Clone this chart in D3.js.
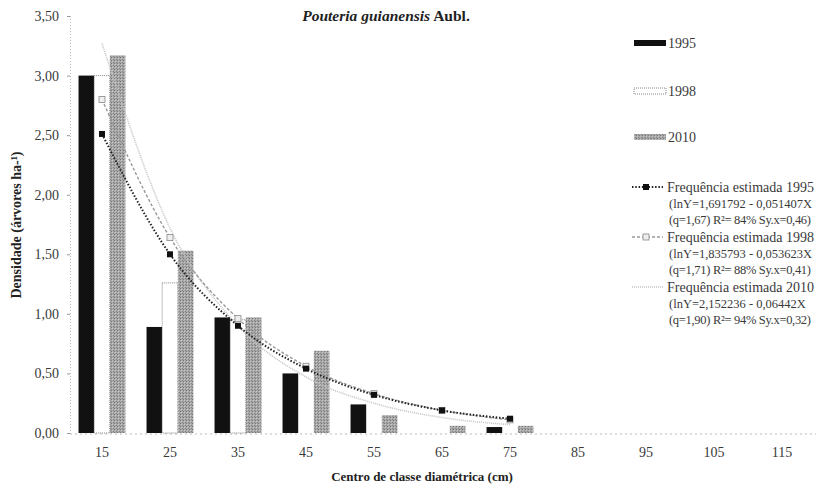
<!DOCTYPE html>
<html>
<head>
<meta charset="utf-8">
<script src="https://cdn.jsdelivr.net/npm/d3@7/dist/d3.min.js"></script>
<style>
  html, body { margin: 0; padding: 0; background: #fff; }
  svg text { font-family: "Liberation Serif", "Times New Roman", "DejaVu Serif", serif; }
</style>
</head>
<body>
<svg id="chart" width="827" height="486"></svg>
<script>
// Diameter class centres (cm)
const classes = [15, 25, 35, 45, 55, 65, 75, 85, 95, 105, 115];
const years = ["1995", "1998", "2010"];

// Observed density (trees ha-1) per class
const obs1995 = [3.00, 0.89, 0.97, 0.50, 0.24, 0, 0.05, 0, 0, 0, 0];
const obs1998 = [3.00, 1.26, 0.95, 0, 0, 0, 0, 0, 0, 0, 0];
const obs2010 = [3.17, 1.53, 0.97, 0.69, 0.15, 0.06, 0.06, 0, 0, 0, 0];

// Estimated frequencies (classes 15–75)
const estClasses = [15, 25, 35, 45, 55, 65, 75];
const est1995 = [2.51, 1.50, 0.90, 0.54, 0.32, 0.19, 0.12];
const est1998 = [2.80, 1.64, 0.96, 0.56, 0.33, 0.19, 0.11];
const est2010 = [3.27, 1.72, 0.90, 0.47, 0.25, 0.13, 0.07];

const yTicks = [0, 0.5, 1.0, 1.5, 2.0, 2.5, 3.0, 3.5];

const legendEq = [
  ["Frequência estimada 1995", "(lnY=1,691792 - 0,051407X", "(q=1,67) R²= 84% Sy.x=0,46)"],
  ["Frequência estimada 1998", "(lnY=1,835793 - 0,053623X", "(q=1,71) R²= 88% Sy.x=0,41)"],
  ["Frequência estimada 2010", "(lnY=2,152236 - 0,06442X", "(q=1,90) R²= 94% Sy.x=0,32)"]
];

const svg = d3.select("#chart");
const ptBR = d3.formatLocale({decimal: ",", thousands: ".", grouping: [3], currency: ["R$", ""]});
const fmt = ptBR.format(".2f");
const FONT = "Liberation Serif, Times New Roman, serif";

// Hatched grey fill for the 2010 bars
const defs = svg.append("defs");
const pat = defs.append("pattern").attr("id", "hatch")
  .attr("patternUnits", "userSpaceOnUse").attr("width", 3).attr("height", 3);
pat.append("rect").attr("width", 3).attr("height", 3).attr("fill", "#a8a8a8");
pat.append("rect").attr("width", 1).attr("height", 1).attr("fill", "#777");
pat.append("rect").attr("x", 2).attr("y", 2).attr("width", 1).attr("height", 1).attr("fill", "#888");
pat.append("rect").attr("x", 1).attr("y", 1).attr("width", 1).attr("height", 1).attr("fill", "#c8c8c8");

const x0 = d3.scaleBand().domain(classes).range([68, 816])
  .paddingInner(0.31).paddingOuter(0.155);
const x1 = d3.scaleBand().domain(years).range([0, x0.bandwidth()]);
const y = d3.scaleLinear().domain([0, 3.5]).range([433, 16]);
const xc = c => x0(c) + x0.bandwidth() / 2;

// Y axis: faint dotted spine with small ticks
const yAxis = svg.append("g").attr("transform", "translate(70,0)")
  .call(d3.axisLeft(y).tickValues(yTicks).tickFormat(fmt).tickSize(3).tickPadding(8));
yAxis.select(".domain").attr("stroke", "#bbb").attr("stroke-dasharray", "1,2");
yAxis.selectAll(".tick line").attr("stroke", "#999");
yAxis.selectAll(".tick text").attr("font-size", 14).attr("fill", "#3a3a3a")
  .attr("font-family", FONT);

// X axis baseline and labels
const xAxis = svg.append("g").attr("transform", "translate(0,434)")
  .call(d3.axisBottom(x0).tickSize(0).tickPadding(13));
xAxis.select(".domain").attr("d", "M70,0H816").attr("stroke", "#bbb").attr("stroke-dasharray", "2,3");
xAxis.selectAll(".tick text").attr("font-size", 14).attr("fill", "#3a3a3a")
  .attr("font-family", FONT);

// Bars
const series = [
  {key: "1995", values: obs1995, fill: "#111", stroke: "none", dash: null},
  {key: "1998", values: obs1998, fill: "#fff", stroke: "#777", dash: "1,1"},
  {key: "2010", values: obs2010, fill: "url(#hatch)", stroke: "none", dash: null}
];
series.forEach(s => {
  svg.append("g").selectAll("rect")
    .data(classes.map((c, i) => ({c, v: s.values[i]})).filter(d => d.v > 0))
    .join("rect")
    .attr("x", d => x0(d.c) + x1(s.key))
    .attr("width", x1.bandwidth())
    .attr("y", d => y(d.v))
    .attr("height", d => y(0) - y(d.v))
    .attr("fill", s.fill)
    .attr("stroke", s.stroke)
    .attr("stroke-width", 0.9)
    .attr("stroke-dasharray", s.dash);
});

// Estimated frequency curves
const line = d3.line().x(d => xc(d.c)).y(d => y(d.v)).curve(d3.curveMonotoneX);
const toPts = arr => estClasses.map((c, i) => ({c, v: arr[i]}));

svg.append("path").datum(toPts(est2010)).attr("d", line)
  .attr("fill", "none").attr("stroke", "#c4c4c4").attr("stroke-width", 1.6)
  .attr("stroke-dasharray", "1,1");
svg.append("path").datum(toPts(est1998)).attr("d", line)
  .attr("fill", "none").attr("stroke", "#999").attr("stroke-width", 1.4)
  .attr("stroke-dasharray", "3,2");
svg.append("path").datum(toPts(est1995)).attr("d", line)
  .attr("fill", "none").attr("stroke", "#222").attr("stroke-width", 2)
  .attr("stroke-dasharray", "1.5,1.8");

// Markers
svg.append("g").selectAll("rect").data(toPts(est1998)).join("rect")
  .attr("x", d => xc(d.c) - 3).attr("y", d => y(d.v) - 3)
  .attr("width", 6).attr("height", 6)
  .attr("fill", "#eee").attr("stroke", "#888").attr("stroke-width", 0.8);
svg.append("g").selectAll("rect").data(toPts(est1995)).join("rect")
  .attr("x", d => xc(d.c) - 3).attr("y", d => y(d.v) - 3)
  .attr("width", 6).attr("height", 6).attr("fill", "#111");

// Title
const title = svg.append("text").attr("x", 386).attr("y", 21)
  .attr("text-anchor", "middle").attr("font-size", 15.5).attr("font-weight", "bold").attr("fill", "#222");
title.append("tspan").attr("font-style", "italic").text("Pouteria guianensis");
title.append("tspan").text(" Aubl.");

// Axis titles
svg.append("text").attr("x", 422).attr("y", 481).attr("text-anchor", "middle")
  .attr("font-size", 13).attr("font-weight", "bold").attr("fill", "#222")
  .text("Centro de classe diamétrica (cm)");
svg.append("text").attr("transform", "translate(21,225) rotate(-90)")
  .attr("text-anchor", "middle").attr("font-size", 14).attr("font-weight", "bold").attr("fill", "#222")
  .text("Densidade (árvores ha-¹)");

// Legend: bar swatches
const lg = svg.append("g");
const swY = [43, 91, 137];
series.forEach((s, i) => {
  lg.append("rect").attr("x", 634).attr("y", swY[i] - 3).attr("width", 32).attr("height", 6)
    .attr("fill", s.fill).attr("stroke", s.stroke).attr("stroke-width", 0.9)
    .attr("stroke-dasharray", s.dash);
  lg.append("text").attr("x", 668).attr("y", swY[i] + 5).attr("font-size", 14)
    .attr("fill", "#3a3a3a").text(s.key);
});

// Legend: estimated curves
const lineY = [187, 237, 287];
const lineStyles = [
  {stroke: "#222", w: 2, dash: "1.5,1.8", marker: "filled"},
  {stroke: "#999", w: 1.4, dash: "3,2", marker: "open"},
  {stroke: "#c4c4c4", w: 1.6, dash: "1,1", marker: null}
];
legendEq.forEach((rows, i) => {
  const st = lineStyles[i];
  const yy = lineY[i];
  lg.append("line").attr("x1", 632).attr("x2", 663).attr("y1", yy).attr("y2", yy)
    .attr("stroke", st.stroke).attr("stroke-width", st.w).attr("stroke-dasharray", st.dash);
  if (st.marker === "filled") {
    lg.append("rect").attr("x", 643).attr("y", yy - 3).attr("width", 6).attr("height", 6).attr("fill", "#111");
  } else if (st.marker === "open") {
    lg.append("rect").attr("x", 643).attr("y", yy - 3).attr("width", 6).attr("height", 6)
      .attr("fill", "#eee").attr("stroke", "#888").attr("stroke-width", 0.8);
  }
  rows.forEach((t, j) => {
    lg.append("text").attr("x", j === 0 ? 667 : 669).attr("y", yy + 5 + j * 16)
      .attr("font-size", j === 0 ? 14 : 12.5)
      .attr("letter-spacing", j === 2 ? -0.3 : 0)
      .attr("fill", "#3a3a3a").text(t);
  });
});
</script>
</body>
</html>
